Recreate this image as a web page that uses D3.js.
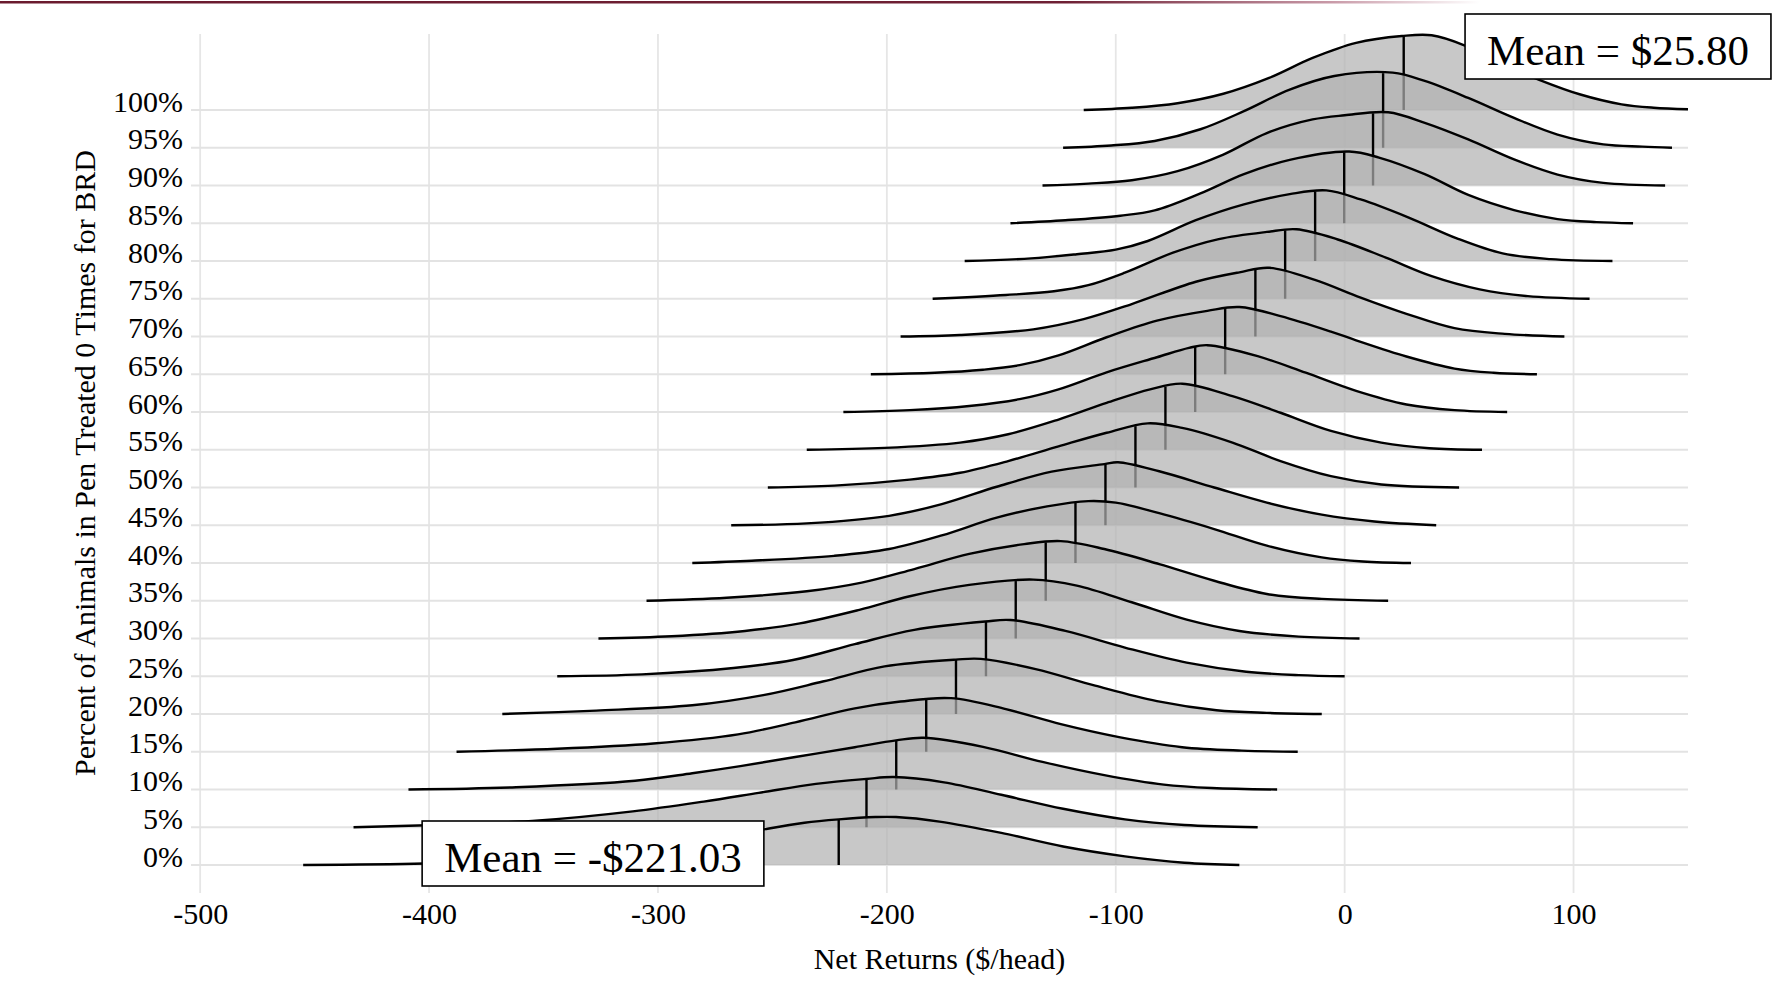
<!DOCTYPE html>
<meta charset="utf-8">
<script src="https://cdn.jsdelivr.net/npm/d3@7"></script>
<style>
    body {
        margin: 0;
        background: #fff;
    }

    .axis text,
    .axis-title,
    .mean-label {
        font-family: "Liberation Serif", "Times New Roman", serif;
        fill: #000;
    }

    .axis text,
    .axis-title {
        font-size: 30px;
    }

    .mean-label {
        font-size: 43px;
    }
</style>

<body>
    <svg class="chart"></svg>
</body>

<script>
    ///////////////////////
    // Data
    var levels = ["0%", "5%", "10%", "15%", "20%", "25%", "30%", "35%", "40%", "45%", "50%",
        "55%", "60%", "65%", "70%", "75%", "80%", "85%", "90%", "95%", "100%"];

    // mean net return of each row ($/head)
    var means = [-221.03, -208.9, -195.9, -182.8, -169.8, -156.7, -143.7, -130.6, -117.6, -104.5, -91.4,
        -78.3, -65.3, -52.2, -39.0, -26.0, -12.9, -0.2, 12.4, 16.8, 25.80];

    // ridge outlines: [net return, ridge height in row units], one list per row
    var ridges = [
        // 0%
        [[-455, 0], [-402, 0.04], [-360, 0.14], [-320, 0.32], [-290, 0.55], [-270, 0.75], [-253, 0.95], [-236, 1.12],
            [-221, 1.21], [-205, 1.27], [-196, 1.27], [-177, 1.15], [-150, 0.85], [-123, 0.49], [-96, 0.23], [-70, 0.06], [-46, 0]],
        // 5%
        [[-433, 0], [-392, 0.07], [-352, 0.18], [-311, 0.42], [-280, 0.68], [-256, 0.91], [-231, 1.15], [-209, 1.28],
            [-197, 1.33], [-175, 1.19], [-150, 0.86], [-123, 0.49], [-96, 0.21], [-70, 0.06], [-38, 0]],
        // 10%
        [[-409, 0], [-362, 0.06], [-310, 0.23], [-285, 0.43], [-264, 0.62], [-240, 0.86], [-214, 1.12], [-196, 1.3],
            [-184, 1.37], [-158, 1.13], [-132, 0.73], [-105, 0.38], [-79, 0.13], [-58, 0.04], [-29.5, 0]],
        // 15%
        [[-388, 0], [-344, 0.08], [-302, 0.22], [-265, 0.46], [-240, 0.78], [-214, 1.15], [-194, 1.33], [-172, 1.42],
            [-148, 1.13], [-124, 0.73], [-98, 0.38], [-71, 0.12], [-45, 0.03], [-20.5, 0]],
        // 20%
        [[-368, 0], [-327, 0.09], [-285, 0.23], [-254, 0.5], [-228, 0.86], [-201, 1.26], [-170, 1.44], [-159, 1.46],
            [-135, 1.19], [-109, 0.75], [-82, 0.34], [-56, 0.1], [-34, 0.03], [-10, 0]],
        // 25%
        [[-344, 0], [-307, 0.05], [-267, 0.22], [-241, 0.43], [-214, 0.85], [-188, 1.23], [-157, 1.45], [-146, 1.49],
            [-122, 1.2], [-96, 0.76], [-69, 0.36], [-43, 0.12], [-20, 0.03], [0, 0]],
        // 30%
        [[-326, 0], [-294, 0.06], [-262, 0.2], [-238, 0.4], [-212, 0.76], [-190, 1.12], [-164, 1.42], [-136, 1.56],
            [-117, 1.4], [-93, 0.96], [-69, 0.5], [-46, 0.2], [-20, 0.05], [6.5, 0]],
        // 35%
        [[-305, 0], [-270, 0.08], [-235, 0.25], [-211, 0.48], [-188, 0.84], [-164, 1.24], [-140, 1.5], [-124, 1.58],
            [-105, 1.37], [-81, 0.97], [-57, 0.53], [-34, 0.18], [-10, 0.05], [19, 0]],
        // 40%
        [[-285, 0], [-259, 0.06], [-223, 0.19], [-199, 0.37], [-176, 0.73], [-152, 1.2], [-130, 1.5], [-112, 1.64],
            [-100, 1.6], [-81, 1.32], [-57, 0.9], [-34, 0.46], [-10, 0.15], [8, 0.04], [29, 0]],
        // 45%
        [[-268, 0], [-235, 0.05], [-199, 0.25], [-176, 0.56], [-152, 1.02], [-128, 1.42], [-105, 1.62], [-99, 1.67],
            [-81, 1.43], [-57, 1.0], [-34, 0.6], [-10, 0.28], [13, 0.1], [40, 0]],
        // 50%
        [[-252, 0], [-223, 0.05], [-190, 0.21], [-168, 0.39], [-147, 0.7], [-125, 1.09], [-104, 1.45], [-86, 1.7],
            [-71, 1.58], [-49, 1.19], [-28, 0.7], [-6, 0.3], [16, 0.08], [50, 0]],
        // 55%
        [[-235, 0], [-201, 0.05], [-168, 0.19], [-147, 0.41], [-125, 0.8], [-104, 1.24], [-85, 1.6], [-71, 1.75],
            [-49, 1.42], [-28, 0.98], [-6, 0.5], [16, 0.19], [37, 0.04], [60, 0]],
        // 60%
        [[-219, 0], [-190, 0.05], [-164, 0.16], [-142, 0.34], [-125, 0.6], [-104, 1.05], [-82, 1.45], [-68, 1.7],
            [-60, 1.77], [-38, 1.48], [-17, 1.04], [5, 0.56], [27, 0.2], [48, 0.05], [71, 0]],
        // 65%
        [[-207, 0], [-179, 0.04], [-158, 0.12], [-142, 0.24], [-125, 0.5], [-104, 0.98], [-82, 1.42], [-60, 1.68],
            [-46, 1.78], [-28, 1.54], [-6, 1.13], [5, 0.9], [27, 0.47], [48, 0.15], [65, 0.04], [84, 0]],
        // 70%
        [[-194, 0], [-168, 0.04], [-136, 0.19], [-114, 0.46], [-93, 0.86], [-65, 1.45], [-46, 1.7], [-33, 1.82],
            [-13, 1.5], [7, 1.03], [27, 0.6], [48, 0.22], [70, 0.07], [96, 0]],
        // 75%
        [[-180, 0], [-148, 0.1], [-127, 0.2], [-112, 0.36], [-96, 0.69], [-75, 1.22], [-55, 1.58], [-34, 1.77],
            [-21, 1.84], [-3, 1.57], [18, 1.09], [38, 0.6], [59, 0.25], [80, 0.07], [107, 0]],
        // 80%
        [[-166, 0], [-137, 0.07], [-117, 0.18], [-100, 0.3], [-86, 0.53], [-65, 1.08], [-44, 1.5], [-24, 1.77],
            [-8, 1.87], [7, 1.63], [28, 1.15], [49, 0.6], [69, 0.2], [90, 0.05], [117, 0]],
        // 85%
        [[-146, 0], [-122, 0.08], [-98, 0.2], [-83, 0.34], [-63, 0.79], [-44, 1.3], [-24, 1.68], [2, 1.9],
            [15, 1.74], [35, 1.3], [54, 0.75], [74, 0.35], [93, 0.11], [110, 0.03], [126, 0]],
        // 90%
        [[-132, 0], [-112, 0.05], [-93, 0.14], [-73, 0.38], [-53, 0.82], [-34, 1.39], [-14, 1.75], [0, 1.86],
            [19, 1.94], [35, 1.66], [54, 1.22], [74, 0.69], [93, 0.29], [113, 0.07], [140, 0]],
        // 95%
        [[-123, 0], [-102, 0.06], [-83, 0.18], [-63, 0.49], [-44, 0.97], [-24, 1.54], [-4.5, 1.9], [21, 1.99],
            [35, 1.77], [54, 1.32], [74, 0.79], [93, 0.35], [113, 0.09], [130, 0.03], [143, 0]],
        // 100%
        [[-114, 0], [-93, 0.06], [-73, 0.18], [-53, 0.43], [-33, 0.85], [-14, 1.38], [5, 1.78], [25, 1.96],
            [38, 1.98], [52, 1.72], [65, 1.32], [85, 0.8], [103, 0.41], [121, 0.15], [135, 0.06], [150, 0.02]]
    ];

    var xTicks = [-500, -400, -300, -200, -100, 0, 100];
    var meanLabels = ["Mean = -$221.03", "Mean = $25.80"];

    ///////////////////////
    // Chart Size Setup
    var svg = d3.select(".chart")
        .attr("width", 1792)
        .attr("height", 981);

    ///////////////////////
    // Scales
    var x = d3.scaleLinear()
        .domain([-504, 150])
        .range([191, 1688]);

    var y = d3.scalePoint()
        .domain(levels)
        .range([865, 110]);

    var step = y.step();

    var h = d3.scaleLinear()
        .domain([0, 1])
        .range([0, step]);

    ///////////////////////
    // Top rule (slide banner line)
    var grad = svg.append("defs").append("linearGradient")
        .attr("id", "banner")
        .attr("x1", "0%").attr("x2", "100%");
    grad.append("stop").attr("offset", "0%").attr("stop-color", "#6a1a2e");
    grad.append("stop").attr("offset", "72%").attr("stop-color", "#6e2034");
    grad.append("stop").attr("offset", "90%").attr("stop-color", "#c99aa8");
    grad.append("stop").attr("offset", "100%").attr("stop-color", "#ffffff");

    svg.append("rect")
        .attr("x", 0)
        .attr("y", 1)
        .attr("width", 1480)
        .attr("height", 2.5)
        .attr("fill", "url(#banner)");

    ///////////////////////
    // Grid
    svg.append("g")
        .selectAll("line")
        .data(xTicks)
        .enter().append("line")
        .attr("x1", function(d) { return x(d); })
        .attr("x2", function(d) { return x(d); })
        .attr("y1", 34)
        .attr("y2", 893)
        .attr("stroke", "#e6e6e6")
        .attr("stroke-width", 1.8);

    svg.append("g")
        .selectAll("line")
        .data(levels)
        .enter().append("line")
        .attr("x1", x.range()[0])
        .attr("x2", x.range()[1])
        .attr("y1", function(d) { return y(d); })
        .attr("y2", function(d) { return y(d); })
        .attr("stroke", "#e3e3e3")
        .attr("stroke-width", 2);

    ///////////////////////
    // Axes
    var xAxis = d3.axisBottom(x)
        .tickValues(xTicks)
        .tickSize(0)
        .tickPadding(10)
        .tickFormat(function(d) { return String(d); });

    svg.append("g")
        .attr("class", "x axis")
        .attr("transform", "translate(0,893)")
        .call(xAxis)
        .call(function(g) { g.select(".domain").remove(); });

    var yAxis = d3.axisLeft(y)
        .tickSize(0)
        .tickPadding(8);

    svg.append("g")
        .attr("class", "y axis")
        .attr("transform", "translate(" + x.range()[0] + ",0)")
        .call(yAxis)
        .call(function(g) { g.select(".domain").remove(); })
        .selectAll("text")
        .attr("dy", 1);

    svg.selectAll(".axis text")
        .attr("font-family", null)
        .attr("font-size", null)
        .attr("fill", null);

    svg.append("text")
        .attr("class", "axis-title")
        .attr("text-anchor", "middle")
        .attr("x", (x.range()[0] + x.range()[1]) / 2)
        .attr("y", 969)
        .text("Net Returns ($/head)");

    svg.append("text")
        .attr("class", "axis-title")
        .attr("text-anchor", "middle")
        .attr("transform", "translate(95,463) rotate(-90)")
        .text("Percent of Animals in Pen Treated 0 Times for BRD");

    ///////////////////////
    // Ridges (drawn top row first so lower rows sit in front)
    var smooth = d3.curveCatmullRom.alpha(0.5);

    var area = d3.area()
        .curve(smooth)
        .x(function(d) { return x(d[0]); })
        .y0(0)
        .y1(function(d) { return -h(d[1]); });

    var line = d3.line()
        .curve(smooth)
        .x(function(d) { return x(d[0]); })
        .y(function(d) { return -h(d[1]); });

    // height of a ridge at a given return, straight between read points
    function heightAt(pts, v) {
        for (var i = 1; i < pts.length; i++) {
            if (v <= pts[i][0]) {
                var t = (v - pts[i - 1][0]) / (pts[i][0] - pts[i - 1][0]);
                return pts[i - 1][1] + t * (pts[i][1] - pts[i - 1][1]);
            }
        }
        return 0;
    }

    for (var i = levels.length - 1; i >= 0; i--) {
        var g = svg.append("g")
            .attr("class", "ridge")
            .attr("transform", "translate(0," + y(levels[i]) + ")");

        g.append("path")
            .datum(ridges[i])
            .attr("d", area)
            .attr("fill", "#b0b0b0")
            .attr("fill-opacity", 0.7);

        g.append("line")
            .attr("x1", x(means[i]))
            .attr("x2", x(means[i]))
            .attr("y1", 0)
            .attr("y2", -h(heightAt(ridges[i], means[i])))
            .attr("stroke", "#000")
            .attr("stroke-width", 2.4);

        g.append("path")
            .datum(ridges[i])
            .attr("d", line)
            .attr("fill", "none")
            .attr("stroke", "#000")
            .attr("stroke-width", 2.4)
            .attr("stroke-linejoin", "round");
    }

    ///////////////////////
    // Mean call-out boxes
    var boxes = [
        { text: meanLabels[0], cx: 593, base: 872 },
        { text: meanLabels[1], cx: 1618, base: 65 }
    ];

    boxes.forEach(function(b) {
        var bg = svg.append("g");
        var rect = bg.append("rect");
        var t = bg.append("text")
            .attr("class", "mean-label")
            .attr("text-anchor", "middle")
            .attr("x", b.cx)
            .attr("y", b.base)
            .text(b.text);
        var bb = t.node().getBBox();
        rect.attr("x", bb.x - 22)
            .attr("y", b.base - 51)
            .attr("width", bb.width + 44)
            .attr("height", 65)
            .attr("fill", "#fff")
            .attr("stroke", "#000")
            .attr("stroke-width", 1.6);
    });
</script>
